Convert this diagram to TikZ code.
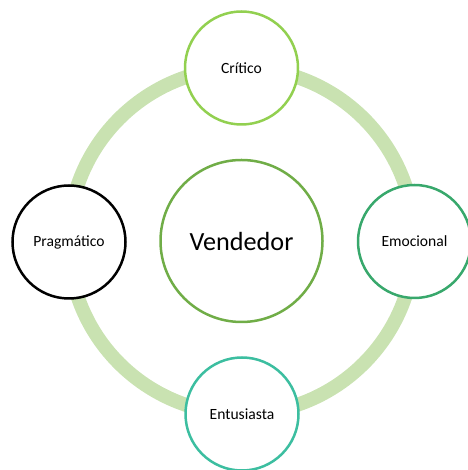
\documentclass[tikz,border=0pt]{standalone}
\usepackage{fontspec}
\setmainfont{Carlito}
\usepackage{tikz}
\usetikzlibrary{shapes.geometric}
\usetikzlibrary{positioning}
\definecolor{ringgreen}{RGB}{201,226,177}
\definecolor{critgreen}{RGB}{146,208,80}
\definecolor{vendgreen}{RGB}{112,173,71}
\definecolor{emogreen}{RGB}{56,168,108}
\definecolor{entugreen}{RGB}{60,190,160}
\tikzset{every node/.style={shape=circle,fill=white,line width=2.5pt,inner sep=0pt}}
\tikzset{perfil/.style={minimum size=113pt,font=\fontsize{15.6pt}{18pt}\selectfont}}
\tikzset{ring/.style={draw=ringgreen,line width=14pt}}

\begin{document}
\begin{tikzpicture}[x=1pt,y=1pt]
		\useasboundingbox (0,0) rectangle (467,470);
		\coordinate (centro) at (241.5,229);
		\draw[ring] (centro) circle (173);
		\node[draw=vendgreen,minimum size=162pt,font=\fontsize{26.2pt}{30pt}\selectfont] (vendedor) at (centro) {Vendedor};
		\node[perfil,draw=critgreen] (critico) at (241.5,402) {Crítico};
		\node[perfil,draw=emogreen] (emocional) at (414.5,228.5) {Emocional};
		\node[perfil,draw=entugreen] (entusiasta) at (242,56) {Entusiasta};
		\node[perfil,draw=black] (pragmatico) at (69,228) {Pragmático};
	\end{tikzpicture}
\end{document}
